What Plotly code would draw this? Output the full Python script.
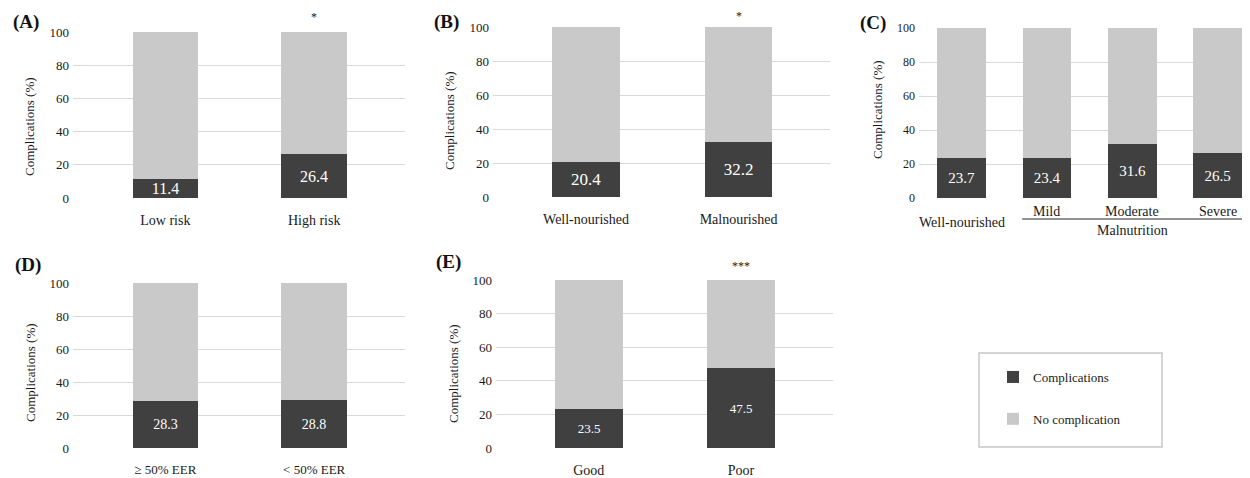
import plotly.graph_objects as go

# ---------------- data ----------------
cats_a = ["Low risk", "High risk"]
comp_a = [11.4, 26.4]
nocomp_a = [88.6, 73.6]

cats_b = ["Well-nourished", "Malnourished"]
comp_b = [20.4, 32.2]
nocomp_b = [79.6, 67.8]

cats_c = ["Well-nourished", "Mild", "Moderate", "Severe"]
comp_c = [23.7, 23.4, 31.6, 26.5]
nocomp_c = [76.3, 76.6, 68.4, 73.5]

cats_d = ["\u2265 50% EER", "< 50% EER"]
comp_d = [28.3, 28.8]
nocomp_d = [71.7, 71.2]

cats_e = ["Good", "Poor"]
comp_e = [23.5, 47.5]
nocomp_e = [76.5, 52.5]

y_ticks = [0, 20, 40, 60, 80, 100]
series_names = ["Complications", "No complication"]
panel_letters = ["(A)", "(B)", "(C)", "(D)", "(E)"]
y_title = "Complications (%)"

# ---------------- style ----------------
PAGE_W, PAGE_H = 1250, 478
OFF = 8  # default body margin of the html page
W, H = PAGE_W - OFF, PAGE_H - OFF
FONT = "Liberation Serif, Times New Roman, DejaVu Serif, serif"
DARK = "#404040"
LIGHT = "#c9c9c9"
GRID = "#d9d9d9"
TXT = "#1a1a1a"


def px_x(v):
    return (v - OFF) / W


def px_y(v):
    return 1 - (v - OFF) / H


panels = [
    dict(cats=cats_a, comp=comp_a, nocomp=nocomp_a, xd=(73, 405), yt=32, yb=198,
         xr=[-0.62, 1.61], bw=0.44, vfs=16, tfs=13, cfs=14,
         title_xy=(30, 127), letter_xy=(26, 22), star=("*", 1, 17)),
    dict(cats=cats_b, comp=comp_b, nocomp=nocomp_b, xd=(493, 830), yt=27, yb=197,
         xr=[-0.61, 1.60], bw=0.44, vfs=17, tfs=13, cfs=14,
         title_xy=(450, 121), letter_xy=(446, 22), star=("*", 1, 16)),
    dict(cats=cats_c, comp=comp_c, nocomp=nocomp_c, xd=(919, 1250), yt=28, yb=198,
         xr=[-0.5, 3.38], bw=0.57, vfs=15, tfs=12, cfs=14,
         title_xy=(878, 110), letter_xy=(873, 23), star=None),
    dict(cats=cats_d, comp=comp_d, nocomp=nocomp_d, xd=(73, 405), yt=283, yb=448,
         xr=[-0.62, 1.61], bw=0.44, vfs=14, tfs=13, cfs=13,
         title_xy=(30, 373), letter_xy=(28, 265), star=None),
    dict(cats=cats_e, comp=comp_e, nocomp=nocomp_e, xd=(496, 833), yt=280, yb=448,
         xr=[-0.61, 1.605], bw=0.45, vfs=13, tfs=13, cfs=14,
         title_xy=(453, 374), letter_xy=(448, 262), star=("***", 1, 266)),
]

fig = go.Figure()
annotations = []
shapes = []
layout_axes = {}

for i, p in enumerate(panels):
    n = i + 1
    xa = "x" if n == 1 else f"x{n}"
    ya = "y" if n == 1 else f"y{n}"
    xkey = "xaxis" if n == 1 else f"xaxis{n}"
    ykey = "yaxis" if n == 1 else f"yaxis{n}"
    nb = len(p["cats"])

    fig.add_trace(go.Bar(
        x=p["cats"], y=p["comp"], name=series_names[0],
        marker=dict(color=DARK, line=dict(width=0)),
        width=[p["bw"]] * nb,
        text=[f"{v:.1f}" for v in p["comp"]],
        textposition="inside", insidetextanchor="middle",
        textfont=dict(color="white", size=p["vfs"], family=FONT),
        constraintext="none", cliponaxis=False,
        xaxis=xa, yaxis=ya, showlegend=(n == 1), legendgroup="g1",
        hoverinfo="x+y",
    ))
    fig.add_trace(go.Bar(
        x=p["cats"], y=p["nocomp"], name=series_names[1],
        marker=dict(color=LIGHT, line=dict(width=0)),
        width=[p["bw"]] * nb,
        xaxis=xa, yaxis=ya, showlegend=(n == 1), legendgroup="g2",
        hoverinfo="x+y",
    ))

    layout_axes[xkey] = dict(
        domain=[max(0, px_x(p["xd"][0])), min(1, px_x(p["xd"][1]))],
        anchor=ya, type="category", range=p["xr"],
        showgrid=False, zeroline=False, showline=False, ticks="",
        showticklabels=(n != 3), automargin=False,
        tickfont=dict(size=p["cfs"], family=FONT, color=TXT),
        ticklabelstandoff=12,
        fixedrange=True,
    )
    layout_axes[ykey] = dict(
        domain=[px_y(p["yb"]), px_y(p["yt"])],
        anchor=xa, range=[0, 100], tickvals=y_ticks,
        showgrid=True, gridcolor=GRID, gridwidth=1,
        zeroline=False, showline=False, ticks="", automargin=False,
        tickfont=dict(size=p["tfs"], family=FONT, color=TXT),
        ticklabelstandoff=3,
        fixedrange=True,
    )

    tx, ty = p["title_xy"]
    annotations.append(dict(
        text=y_title, xref="paper", yref="paper", x=px_x(tx), y=px_y(ty),
        xanchor="center", yanchor="middle", textangle=-90, showarrow=False,
        font=dict(size=13, family=FONT, color=TXT),
    ))
    lx, ly = p["letter_xy"]
    annotations.append(dict(
        text=f"<b>{panel_letters[i]}</b>", xref="paper", yref="paper",
        x=px_x(lx), y=px_y(ly), xanchor="center", yanchor="middle",
        showarrow=False, font=dict(size=19, family=FONT, color="#111111"),
    ))
    if p["star"] is not None:
        s, sx, sy = p["star"]
        annotations.append(dict(
            text=s, xref=xa, yref="paper", x=p["cats"][sx], y=px_y(sy),
            xanchor="center", yanchor="middle", showarrow=False,
            font=dict(size=12, family=FONT, color=TXT),
        ))

# panel C category labels with malnutrition bracket
for j, c in enumerate(cats_c):
    yy = 222 if j == 0 else 212
    annotations.append(dict(
        text=c, xref="x3", yref="paper", x=c, y=px_y(yy),
        xanchor="center", yanchor="middle", showarrow=False,
        font=dict(size=14, family=FONT, color=TXT),
    ))
annotations.append(dict(
    text="Malnutrition", xref="x3", yref="paper", x=cats_c[2], y=px_y(230),
    xanchor="center", yanchor="middle", showarrow=False,
    font=dict(size=14, family=FONT, color=TXT),
))
shapes.append(dict(
    type="line", xref="x3", yref="paper", x0=0.71, x1=3.3,
    y0=px_y(219), y1=px_y(219), line=dict(color="#222222", width=1),
))

# legend frame
shapes.append(dict(
    type="rect", xref="paper", yref="paper",
    x0=px_x(979), x1=px_x(1162), y0=px_y(447), y1=px_y(353),
    line=dict(color="#c8c8c8", width=1.5), fillcolor="rgba(0,0,0,0)",
))

fig.update_layout(
    width=W, height=H,
    margin=dict(l=0, r=0, t=0, b=0, autoexpand=False),
    paper_bgcolor="white", plot_bgcolor="white",
    barmode="stack", bargap=0,
    font=dict(family=FONT, size=13, color=TXT),
    annotations=annotations, shapes=shapes,
    legend=dict(
        x=px_x(993), y=px_y(362), xanchor="left", yanchor="top",
        traceorder="grouped", tracegroupgap=22,
        bgcolor="rgba(0,0,0,0)", borderwidth=0,
        font=dict(size=13, family=FONT, color=TXT),
        itemclick=False, itemdoubleclick=False,
    ),
    **layout_axes,
)

fig.write_html("out.html")
